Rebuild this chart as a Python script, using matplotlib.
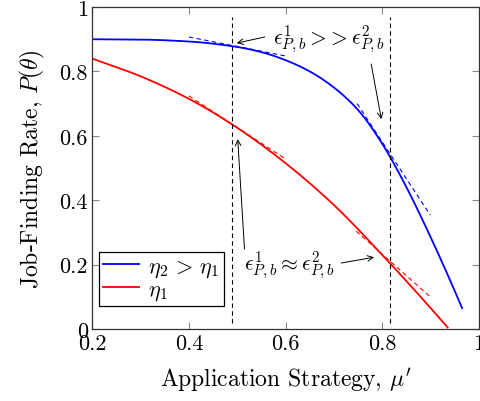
import matplotlib
matplotlib.use("Agg")
import matplotlib.pyplot as plt
import numpy as np

plt.rcParams['font.family'] = ['cmr10', 'DejaVu Serif']
plt.rcParams['mathtext.fontset'] = 'cm'
plt.rcParams['axes.formatter.use_mathtext'] = True

# curves
x_blue = [0.2, 0.3, 0.4, 0.5, 0.55, 0.6, 0.65, 0.7, 0.75, 0.8, 0.85, 0.9, 0.94, 0.965]
p_blue = [0.90, 0.899, 0.893, 0.876, 0.86, 0.835, 0.80, 0.75, 0.68, 0.575, 0.44, 0.285, 0.152, 0.065]
x_red = [0.2, 0.3, 0.4, 0.5, 0.6, 0.7, 0.8, 0.9, 0.935]
p_red = [0.84, 0.785, 0.715, 0.625, 0.515, 0.385, 0.23, 0.065, 0.005]

# tangent segments (x0, y0, x1, y1)
tan_blue = [(0.4, 0.907, 0.6, 0.848), (0.748, 0.70, 0.899, 0.354)]
tan_red = [(0.4, 0.724, 0.6, 0.528), (0.746, 0.304, 0.897, 0.103)]
vlines_x = [0.49, 0.815]


def pchip(xs, ys, n=400):
    # monotone cubic through the read points
    x = np.asarray(xs, float)
    y = np.asarray(ys, float)
    h = np.diff(x)
    d = np.diff(y) / h
    m = np.zeros_like(y)
    for k in range(1, len(x) - 1):
        if d[k - 1] * d[k] > 0:
            w1 = 2 * h[k] + h[k - 1]
            w2 = h[k] + 2 * h[k - 1]
            m[k] = (w1 + w2) / (w1 / d[k - 1] + w2 / d[k])
    m[0] = d[0]
    m[-1] = d[-1]
    xx = np.linspace(x[0], x[-1], n)
    i = np.clip(np.searchsorted(x, xx) - 1, 0, len(h) - 1)
    t = (xx - x[i]) / h[i]
    h00 = 2 * t**3 - 3 * t**2 + 1
    h10 = t**3 - 2 * t**2 + t
    h01 = -2 * t**3 + 3 * t**2
    h11 = t**3 - t**2
    yy = h00 * y[i] + h10 * h[i] * m[i] + h01 * y[i + 1] + h11 * h[i] * m[i + 1]
    return xx, yy


fig = plt.figure(figsize=(4.8, 4.02), dpi=100)
ax = fig.add_axes([0.192, 0.179, 0.806, 0.801])

xb, yb = pchip(x_blue, p_blue)
xr, yr = pchip(x_red, p_red)
ax.plot(xb, yb, color='blue', lw=1.3, label=r'$\eta_2\,>\,\eta_1$')
ax.plot(xr, yr, color='red', lw=1.3, label=r'$\eta_1$')

for x0, y0, x1, y1 in tan_blue:
    ax.plot([x0, x1], [y0, y1], color='blue', lw=0.8, ls=(0, (4, 3)))
for x0, y0, x1, y1 in tan_red:
    ax.plot([x0, x1], [y0, y1], color='red', lw=0.8, ls=(0, (4, 3)))
for xv in vlines_x:
    ax.plot([xv, xv], [0.02, 0.97], color='black', lw=0.8, ls=(0, (4, 3)))

fs = 15.5
arw = dict(arrowstyle='->', color='black', lw=0.7, shrinkA=0, shrinkB=0)
ax.text(0.69, 0.9, r'$\epsilon_{P,b}^{1} >\!> \epsilon_{P,b}^{2}$', fontsize=fs,
        ha='center', va='center')
ax.annotate('', xy=(0.499, 0.888), xytext=(0.557, 0.907), arrowprops=arw)
ax.annotate('', xy=(0.798, 0.652), xytext=(0.777, 0.823), arrowprops=arw)
ax.text(0.607, 0.2, r'$\epsilon_{P,b}^{1} \approx \epsilon_{P,b}^{2}$', fontsize=fs,
        ha='center', va='center')
ax.annotate('', xy=(0.501, 0.59), xytext=(0.515, 0.248), arrowprops=arw)
ax.annotate('', xy=(0.783, 0.223), xytext=(0.715, 0.205), arrowprops=arw)

ax.set_xlim(0.2, 1)
ax.set_ylim(0, 1)
ax.set_xticks([0.2, 0.4, 0.6, 0.8, 1])
ax.set_xticklabels(['0.2', '0.4', '0.6', '0.8', '1'])
ax.set_yticks([0, 0.2, 0.4, 0.6, 0.8, 1])
ax.set_yticklabels(['0', '0.2', '0.4', '0.6', '0.8', '1'])
ax.tick_params(direction='in', top=True, right=True, labelsize=16, length=5,
               color='#888888', pad=3)
for s in ax.spines.values():
    s.set_color('#333333')
    s.set_linewidth(0.9)
ax.set_xlabel(r"Application Strategy, $\mu'$", fontsize=17, labelpad=9)
ax.set_ylabel(r'Job-Finding Rate, $P(\theta)$', fontsize=17, labelpad=9)

leg = ax.legend(loc='lower left', fontsize=16, fancybox=False, edgecolor='black',
                framealpha=1, handlelength=1.6, borderpad=0.2, labelspacing=0.0,
                handletextpad=0.4, borderaxespad=0.3, bbox_to_anchor=(0.0, 0.05))
leg.get_frame().set_linewidth(0.9)

fig.savefig('out.png', dpi=100)
